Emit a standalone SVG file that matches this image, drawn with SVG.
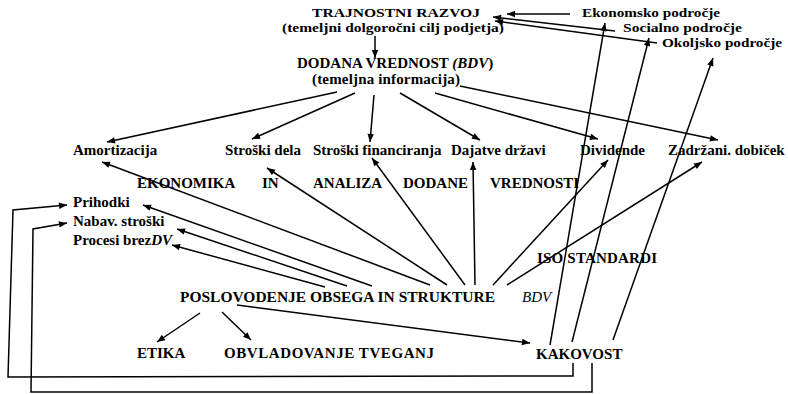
<svg xmlns="http://www.w3.org/2000/svg" width="788" height="394" viewBox="0 0 788 394">
<style>
text{font-family:"Liberation Serif","Times New Roman",serif;font-size:15px;font-weight:bold;fill:#000}
.sm{font-size:13.5px}
.it{font-style:italic}
.c{stroke:#000;stroke-width:1.5;fill:none}
.a{marker-end:url(#ah)}
</style>
<defs>
<marker id="ah" viewBox="0 0 10 10" refX="10" refY="5" markerWidth="10" markerHeight="8" markerUnits="userSpaceOnUse" orient="auto">
<path d="M0,1 L10,5 L0,9 z" fill="#000"/>
</marker>
</defs>
<rect width="788" height="394" fill="#fff"/>
<g id="connectors">
<line class="c a" x1="570" y1="14" x2="507" y2="14"/>
<line class="c a" x1="615" y1="31" x2="493" y2="17"/>
<line class="c a" x1="657" y1="43" x2="495" y2="21"/>
<line class="c a" x1="375" y1="36" x2="375" y2="58"/>
<line class="c a" x1="337" y1="92" x2="107" y2="142"/>
<line class="c a" x1="355" y1="93" x2="252" y2="139"/>
<line class="c a" x1="374" y1="95" x2="370" y2="142"/>
<line class="c a" x1="400" y1="93" x2="480" y2="140"/>
<line class="c a" x1="435" y1="93" x2="598" y2="139"/>
<line class="c a" x1="460" y1="86" x2="718" y2="140"/>
<line class="c a" x1="325" y1="287" x2="172" y2="245"/>
<line class="c a" x1="347" y1="286" x2="177" y2="229"/>
<line class="c a" x1="372" y1="286" x2="143" y2="205"/>
<line class="c a" x1="430" y1="285" x2="102" y2="162"/>
<line class="c a" x1="447" y1="285" x2="267" y2="168"/>
<line class="c a" x1="465" y1="285" x2="372" y2="158"/>
<line class="c a" x1="475" y1="285" x2="473" y2="162"/>
<line class="c a" x1="493" y1="285" x2="608" y2="160"/>
<line class="c a" x1="507" y1="285" x2="702" y2="162"/>
<line class="c a" x1="237" y1="305" x2="530" y2="343"/>
<line class="c a" x1="200" y1="313" x2="157" y2="342"/>
<line class="c a" x1="222" y1="312" x2="251" y2="340"/>
<line class="c a" x1="550" y1="345" x2="605" y2="23"/>
<line class="c a" x1="572" y1="342" x2="649" y2="38"/>
<line class="c a" x1="613" y1="340" x2="713" y2="58"/>
<polyline class="c a" points="573,363 573,376 8,377 13,210 67,205"/>
<polyline class="c a" points="592,363 592,392 31,392 33,229 67,223"/>
</g>
<g id="trajnostni"><text class="sm" x="312" y="17" textLength="168" lengthAdjust="spacingAndGlyphs">TRAJNOSTNI RAZVOJ</text><text class="sm" x="282" y="32" textLength="222" lengthAdjust="spacingAndGlyphs">(temeljni dolgoročni cilj podjetja)</text></g>
<g id="dodana"><text x="297" y="68">DODANA VREDNOST <tspan class="it">(BDV</tspan>)</text><text x="312" y="84" textLength="148">(temeljna informacija)</text></g>
<g id="ekonomsko"><text class="sm" x="582" y="17" textLength="138" lengthAdjust="spacingAndGlyphs">Ekonomsko področje</text></g>
<g id="socialno"><text class="sm" x="623" y="32" textLength="119" lengthAdjust="spacingAndGlyphs">Socialno področje</text></g>
<g id="okoljsko"><text class="sm" x="662" y="47" textLength="120" lengthAdjust="spacingAndGlyphs">Okoljsko področje</text></g>
<g id="amortizacija"><text x="73" y="155">Amortizacija</text></g>
<g id="stroski-dela"><text x="225" y="155">Stroški dela</text></g>
<g id="stroski-fin"><text x="313" y="155">Stroški financiranja</text></g>
<g id="dajatve"><text x="451" y="155">Dajatve državi</text></g>
<g id="dividende"><text x="580" y="155">Dividende</text></g>
<g id="zadrzani"><text x="668" y="155">Zadržani. dobiček</text></g>
<g id="naslov"><text x="137" y="188">EKONOMIKA</text><text x="262" y="188">IN</text><text x="313" y="188">ANALIZA</text><text x="403" y="188">DODANE</text><text x="490" y="188">VREDNOSTI</text></g>
<g id="prihodki"><text x="73" y="207">Prihodki</text></g>
<g id="nabav"><text x="73" y="226">Nabav. stroški</text></g>
<g id="procesi"><text x="73" y="245">Procesi brez<tspan class="it">DV</tspan></text></g>
<g id="iso"><text x="537" y="263" textLength="120">ISO STANDARDI</text></g>
<g id="poslovodenje"><text x="180" y="302" textLength="315" lengthAdjust="spacingAndGlyphs">POSLOVODENJE OBSEGA IN STRUKTURE</text><text class="it" x="522" y="302" style="font-weight:normal">BDV</text></g>
<g id="etika"><text x="137" y="358">ETIKA</text></g>
<g id="tveganje"><text x="224" y="358" textLength="210">OBVLADOVANJE  TVEGANJ</text></g>
<g id="kakovost"><text x="536" y="359">KAKOVOST</text></g>
</svg>
